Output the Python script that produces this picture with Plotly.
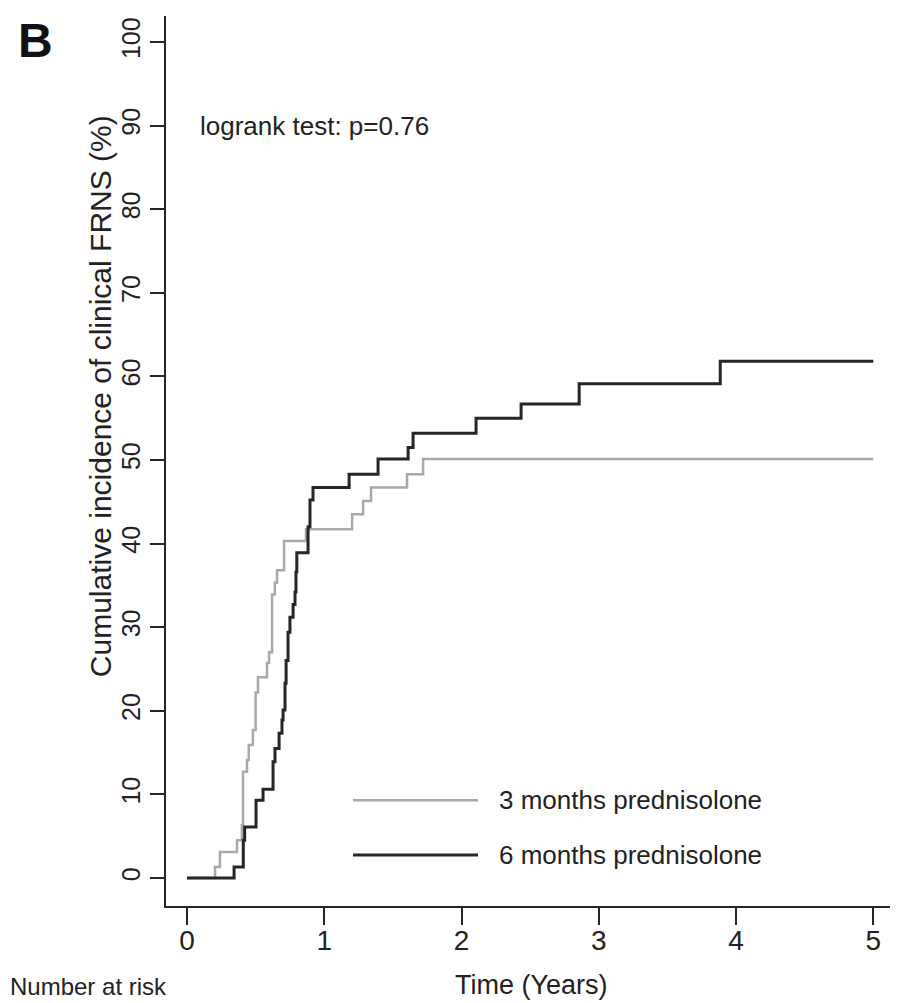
import plotly.graph_objects as go

# ---- data ----
gray_label = "3 months prednisolone"
gray_t = [0, 0.204, 0.24, 0.364, 0.40, 0.408, 0.437, 0.45, 0.48, 0.50, 0.517, 0.583, 0.598,
          0.62, 0.64, 0.656, 0.707, 0.867, 1.203, 1.283, 1.341, 1.603, 1.72, 5.0]
gray_v = [0, 1.3, 3.1, 4.5, 6.3, 12.7, 14.1, 15.9, 17.7, 22.2, 24.0, 25.7, 27.0,
          33.9, 35.3, 36.8, 40.3, 41.7, 43.5, 45.1, 46.7, 48.3, 50.1, 50.1]

black_label = "6 months prednisolone"
black_t = [0, 0.343, 0.41, 0.42, 0.503, 0.554, 0.627, 0.641, 0.671, 0.692, 0.70, 0.714, 0.722,
           0.736, 0.75, 0.773, 0.787, 0.794, 0.80, 0.882, 0.896, 0.918, 1.181, 1.392, 1.611,
           1.647, 2.106, 2.434, 2.857, 3.885, 5.0]
black_v = [0, 1.3, 4.5, 6.1, 9.3, 10.6, 13.9, 15.5, 17.3, 18.9, 20.1, 23.3, 26.0,
           29.4, 31.2, 32.7, 34.2, 36.6, 38.9, 42.0, 45.2, 46.7, 48.3, 50.1, 51.5,
           53.2, 55.0, 56.7, 59.1, 61.8, 61.8]

x_ticks = [0, 1, 2, 3, 4, 5]
y_ticks = [0, 10, 20, 30, 40, 50, 60, 70, 80, 90, 100]

GRAY = "#a9a9a9"
BLACK = "#262626"
FONT = "Liberation Sans, Arial, sans-serif"
TXT = "#222"

fig = go.Figure()
fig.add_trace(go.Scatter(x=gray_t, y=gray_v, mode="lines", line=dict(shape="hv", color=GRAY, width=2.5),
                         name=gray_label, showlegend=False))
fig.add_trace(go.Scatter(x=black_t, y=black_v, mode="lines", line=dict(shape="hv", color=BLACK, width=3),
                         name=black_label, showlegend=False))

# legend drawn as in the reference (long sample lines)
leg = [(gray_label, GRAY, 2.5, 9.3), (black_label, BLACK, 3, 2.75)]
for label, col, w, yv in leg:
    fig.add_shape(type="line", xref="x", yref="y", x0=1.21, x1=2.12, y0=yv, y1=yv,
                  line=dict(color=col, width=w))
    fig.add_annotation(x=2.26, y=yv, xref="x", yref="y", text=label, showarrow=False,
                       xanchor="left", yanchor="middle", font=dict(family=FONT, size=26, color=TXT))

fig.add_annotation(x=0.08, y=90, xref="x", yref="y", text="logrank test: p=0.76", showarrow=False,
                   xanchor="left", yanchor="middle", font=dict(family=FONT, size=26, color=TXT))

fig.add_annotation(x=-0.09, y=0.573, xref="paper", yref="paper",
                   text="Cumulative incidence of clinical FRNS (%)", textangle=-90, showarrow=False,
                   xanchor="center", yanchor="middle", font=dict(family=FONT, size=30, color=TXT))
fig.add_annotation(x=2.51, y=-0.089, xref="x", yref="paper", text="Time (Years)", showarrow=False,
                   xanchor="center", yanchor="middle", font=dict(family=FONT, size=27, color=TXT))
fig.add_annotation(x=-0.216, y=-0.108, xref="paper", yref="paper", text="Number at risk", showarrow=False,
                   xanchor="left", yanchor="bottom", font=dict(family=FONT, size=24, color=TXT))
fig.add_annotation(x=-0.205, y=1.005, xref="paper", yref="paper", text="<b>B</b>", showarrow=False,
                   xanchor="left", yanchor="top", font=dict(family=FONT, size=48, color="#111"))

# the page body has an 8px default margin, so the figure is 8px smaller on each side
fig.update_layout(
    width=890, height=995, autosize=False,
    margin=dict(l=158, r=0, t=8, b=97),
    paper_bgcolor="white", plot_bgcolor="white",
    xaxis=dict(range=[-0.153, 5.18], tickvals=x_ticks, ticktext=[str(v) for v in x_ticks],
               showline=True, linecolor=BLACK, linewidth=2, ticks="outside", ticklen=17,
               tickwidth=1.5, tickcolor=BLACK, showgrid=False, zeroline=False,
               ticklabelstandoff=-9,
               tickfont=dict(family=FONT, size=28, color=TXT)),
    yaxis=dict(range=[-3.35, 103.1], tickvals=y_ticks, ticktext=[str(v) for v in y_ticks],
               showline=True, linecolor=BLACK, linewidth=2, ticks="outside", ticklen=14,
               tickwidth=1.5, tickcolor=BLACK, showgrid=False, zeroline=False, tickangle=-90,
               ticklabelstandoff=0,
               tickfont=dict(family=FONT, size=25, color=TXT)),
)

fig.write_html("out.html")
